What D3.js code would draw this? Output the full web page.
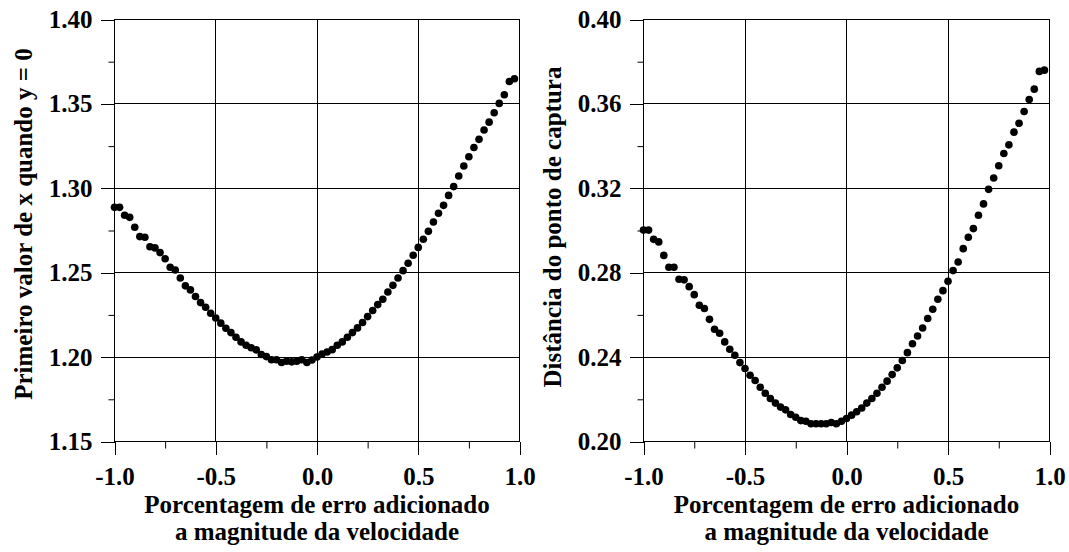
<!DOCTYPE html>
<html>
<head>
<meta charset="utf-8">
<script src="https://cdn.jsdelivr.net/npm/d3@7"></script>
<style>
  body { margin: 0; background: #fff; }
  svg { display: block; }
  text { font-family: "Liberation Serif", "Times New Roman", serif; font-weight: bold; fill: #000; }
</style>
</head>
<body>
<div id="chart"></div>
<script>
// x values: percentage of error added to the velocity magnitude
const xValues = [
  -1.000, -0.975, -0.950, -0.925, -0.900, -0.875, -0.850, -0.825, -0.800, -0.775,
  -0.750, -0.725, -0.700, -0.675, -0.650, -0.625, -0.600, -0.575, -0.550, -0.525,
  -0.500, -0.475, -0.450, -0.425, -0.400, -0.375, -0.350, -0.325, -0.300, -0.275,
  -0.250, -0.225, -0.200, -0.175, -0.150, -0.125, -0.100, -0.075, -0.050, -0.025,
   0.000,  0.025,  0.050,  0.075,  0.100,  0.125,  0.150,  0.175,  0.200,  0.225,
   0.250,  0.275,  0.300,  0.325,  0.350,  0.375,  0.400,  0.425,  0.450,  0.475,
   0.500,  0.525,  0.550,  0.575,  0.600,  0.625,  0.650,  0.675,  0.700,  0.725,
   0.750,  0.775,  0.800,  0.825,  0.850,  0.875,  0.900,  0.925,  0.950,  0.975
];

// left panel: first value of x when y = 0
const firstXValues = [
  1.2887, 1.2887, 1.2840, 1.2828, 1.2769, 1.2714, 1.2710, 1.2654, 1.2647, 1.2619,
  1.2583, 1.2532, 1.2516, 1.2469, 1.2422, 1.2398, 1.2359, 1.2323, 1.2295, 1.2260,
  1.2232, 1.2201, 1.2171, 1.2145, 1.2118, 1.2090, 1.2070, 1.2055, 1.2043, 1.2015,
  1.2003, 1.1984, 1.1984, 1.1968, 1.1976, 1.1972, 1.1976, 1.1984, 1.1968, 1.1983,
  1.2001, 1.2018, 1.2030, 1.2044, 1.2070, 1.2090, 1.2118, 1.2145, 1.2173, 1.2205,
  1.2240, 1.2276, 1.2311, 1.2343, 1.2386, 1.2425, 1.2469, 1.2512, 1.2556, 1.2603,
  1.2650, 1.2698, 1.2745, 1.2800, 1.2852, 1.2899, 1.2958, 1.3010, 1.3073, 1.3132,
  1.3187, 1.3242, 1.3290, 1.3345, 1.3392, 1.3448, 1.3503, 1.3554, 1.3633, 1.3649
];

// right panel: distance of the capture point
const captureDistValues = [
  0.3002, 0.3002, 0.2958, 0.2946, 0.2882, 0.2826, 0.2826, 0.2769, 0.2766, 0.2734,
  0.2696, 0.2646, 0.2630, 0.2579, 0.2532, 0.2513, 0.2472, 0.2437, 0.2409, 0.2374,
  0.2346, 0.2314, 0.2289, 0.2257, 0.2229, 0.2204, 0.2182, 0.2163, 0.2150, 0.2128,
  0.2115, 0.2099, 0.2096, 0.2084, 0.2084, 0.2084, 0.2084, 0.2090, 0.2084, 0.2096,
  0.2109, 0.2125, 0.2141, 0.2159, 0.2182, 0.2204, 0.2229, 0.2257, 0.2286, 0.2317,
  0.2349, 0.2384, 0.2421, 0.2463, 0.2500, 0.2538, 0.2583, 0.2627, 0.2674, 0.2715,
  0.2759, 0.2810, 0.2851, 0.2914, 0.2968, 0.3009, 0.3072, 0.3126, 0.3195, 0.3249,
  0.3307, 0.3365, 0.3406, 0.3466, 0.3508, 0.3564, 0.3621, 0.3670, 0.3754, 0.3760
];

const xTicks = [-1.0, -0.5, 0.0, 0.5, 1.0];
const xMinorTicks = [-0.75, -0.25, 0.25, 0.75];
const leftYTicks = [1.15, 1.20, 1.25, 1.30, 1.35, 1.40];
const leftYMinorTicks = [1.175, 1.225, 1.275, 1.325, 1.375];
const rightYTicks = [0.20, 0.24, 0.28, 0.32, 0.36, 0.40];
const rightYMinorTicks = [0.22, 0.26, 0.30, 0.34, 0.38];

const xTitleLines = ["Porcentagem de erro adicionado", "a magnitude da velocidade"];
const leftYTitle = "Primeiro valor de x quando y = 0";
const rightYTitle = "Distância do ponto de captura";

const width = 1069, height = 552;
const fontSize = "25px";
const svg = d3.select("#chart").append("svg")
  .attr("width", width)
  .attr("height", height);

// plain hyphen instead of the unicode minus d3 uses by default
const fmt = digits => d => d.toFixed(digits);

function drawPanel(opts) {
  const g = svg.append("g");
  const x = d3.scaleLinear().domain([-1, 1]).range([opts.left, opts.right]);
  const y = d3.scaleLinear().domain(opts.yDomain).range([opts.bottom, opts.top]);

  // grid lines
  g.selectAll(".vgrid")
    .data(xTicks)
    .enter().append("line")
    .attr("x1", d => x(d)).attr("x2", d => x(d))
    .attr("y1", opts.top).attr("y2", opts.bottom)
    .attr("stroke", "#000").attr("stroke-width", 1).attr("shape-rendering", "crispEdges");
  g.selectAll(".hgrid")
    .data(opts.yTicks)
    .enter().append("line")
    .attr("x1", opts.left).attr("x2", opts.right)
    .attr("y1", d => y(d)).attr("y2", d => y(d))
    .attr("stroke", "#000").attr("stroke-width", 1).attr("shape-rendering", "crispEdges");

  // minor ticks
  g.append("g")
    .attr("transform", `translate(${opts.left},0)`)
    .call(d3.axisLeft(y).tickValues(opts.yMinor).tickSize(6).tickFormat(""))
    .call(a => a.select(".domain").remove());
  g.append("g")
    .attr("transform", `translate(0,${opts.bottom})`)
    .call(d3.axisBottom(x).tickValues(xMinorTicks).tickSize(7).tickFormat(""))
    .call(a => a.select(".domain").remove());

  // major axes
  const yAxis = g.append("g")
    .attr("transform", `translate(${opts.left},0)`)
    .call(d3.axisLeft(y).tickValues(opts.yTicks).tickSize(14).tickPadding(8).tickFormat(fmt(2)));
  const xAxis = g.append("g")
    .attr("transform", `translate(0,${opts.bottom})`)
    .call(d3.axisBottom(x).tickValues(xTicks).tickSize(13).tickPadding(13).tickFormat(fmt(1)));

  [yAxis, xAxis].forEach(a => {
    a.selectAll(".domain").remove();
    a.selectAll("line").attr("shape-rendering", "crispEdges");
    a.selectAll("text")
      .style("font-size", fontSize)
      .style("font-weight", "bold")
      .attr("fill", "#000");
  });
  g.selectAll(".tick line").attr("stroke", "#000");

  // frame
  g.append("rect")
    .attr("x", opts.left).attr("y", opts.top)
    .attr("width", opts.right - opts.left)
    .attr("height", opts.bottom - opts.top)
    .attr("fill", "none").attr("stroke", "#000")
    .attr("shape-rendering", "crispEdges");

  // points
  g.selectAll(".pt")
    .data(xValues.map((v, i) => [v, opts.values[i]]))
    .enter().append("circle")
    .attr("cx", d => x(d[0]))
    .attr("cy", d => y(d[1]))
    .attr("r", 3.8)
    .attr("fill", "#000");

  // x title
  const cx = (opts.left + opts.right) / 2;
  g.selectAll(".xtitle")
    .data(xTitleLines)
    .enter().append("text")
    .attr("x", cx)
    .attr("y", (d, i) => 513 + i * 27)
    .attr("text-anchor", "middle")
    .style("font-size", fontSize)
    .text(d => d);

  // y title
  g.append("text")
    .attr("transform", `translate(${opts.titleX},${opts.titleY}) rotate(-90)`)
    .attr("text-anchor", "middle")
    .style("font-size", fontSize)
    .text(opts.yTitle);
}

drawPanel({
  left: 114.5, right: 519.5, top: 19.5, bottom: 441.5,
  yDomain: [1.15, 1.40], yTicks: leftYTicks, yMinor: leftYMinorTicks,
  values: firstXValues, yTitle: leftYTitle, titleX: 32, titleY: 224
});

drawPanel({
  left: 643.5, right: 1049.5, top: 19.5, bottom: 441.5,
  yDomain: [0.20, 0.40], yTicks: rightYTicks, yMinor: rightYMinorTicks,
  values: captureDistValues, yTitle: rightYTitle, titleX: 561, titleY: 227
});
</script>
</body>
</html>
